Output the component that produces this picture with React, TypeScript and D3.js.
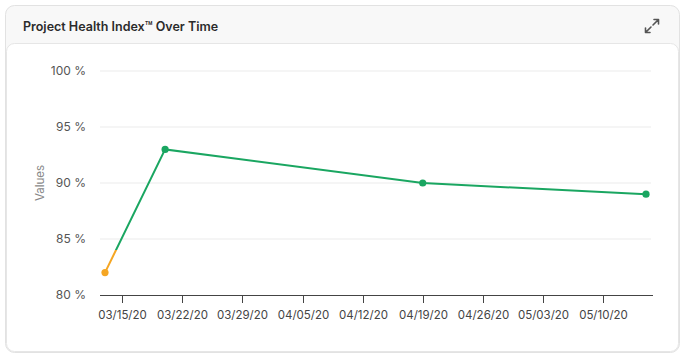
import React from "react";
import * as d3 from "d3";

const dates = ["2020-03-13", "2020-03-20", "2020-04-19", "2020-05-15"];
const values = [82, 93, 90, 89];
const yTicks = [80, 85, 90, 95, 100];
const xTickDates = ["2020-03-15", "2020-03-22", "2020-03-29", "2020-04-05", "2020-04-12", "2020-04-19", "2020-04-26", "2020-05-03", "2020-05-10"];
const threshold = 84;

const W = 688;
const H = 360;
const parse = d3.timeParse("%Y-%m-%d");
const fmt = d3.timeFormat("%m/%d/%y");
const FONT = "Inter, 'Noto Sans', sans-serif";

export default function App() {
  const pts = dates.map((d, i) => ({ date: parse(d) as Date, v: values[i] }));
  const x = d3.scaleTime().domain([pts[0].date, pts[pts.length - 1].date]).range([105, 646]);
  const y = d3.scaleLinear().domain([80, 100]).range([295, 71]);
  const line = d3.line<{ date: Date; v: number }>().x((d) => x(d.date)).y((d) => y(d.v));
  const green = "#1aa661";
  const orange = "#f5a623";
  const tY = y(threshold);
  return (
    <svg width={W} height={H} style={{ position: "absolute", left: 0, top: 0, fontFamily: FONT }}>
      <defs>
        <linearGradient id="lg" gradientUnits="userSpaceOnUse" x1={0} y1={y(80)} x2={0} y2={y(100)}>
          <stop offset={(y(80) - tY) / (y(80) - y(100))} stopColor={orange} />
          <stop offset={(y(80) - tY) / (y(80) - y(100))} stopColor={green} />
        </linearGradient>
      </defs>
      <rect x={5.5} y={5.5} width={674} height={347} rx={9} fill="#f8f8f8" stroke="#e2e2e2" />
      <rect x={6.5} y={43.5} width={672} height={308} rx={8} fill="#ffffff" stroke="#e6e6e6" />
      <text x={23} y={30.5} fontSize={12.5} fontWeight={600} fill="#2b2b2b">Project Health Index™ Over Time</text>
      <g stroke="#555" strokeWidth={1.6} fill="none" strokeLinecap="round" strokeLinejoin="round">
        <path d="M653 25 L658.5 19.5 M654 19.5 L658.5 19.5 L658.5 24" />
        <path d="M651 27 L645.5 32.5 M645.5 28 L645.5 32.5 L650 32.5" />
      </g>
      {yTicks.map((t) => (
        <g key={t}>
          {t !== 80 && <line x1={100} x2={651} y1={y(t)} y2={y(t)} stroke="#ebebeb" strokeWidth={1} />}
          <text x={86} y={y(t)} dy="0.35em" textAnchor="end" fontSize={12} fill="#555">{t} %</text>
        </g>
      ))}
      <text transform={`translate(44,${y(90)}) rotate(-90)`} textAnchor="middle" fontSize={11.5} fill="#888">Values</text>
      <line x1={100} x2={653} y1={295.5} y2={295.5} stroke="#444" strokeWidth={1} />
      {xTickDates.map((d) => {
        const dt = parse(d) as Date;
        const xx = Math.round(x(dt)) + 0.5;
        return (
          <g key={d}>
            <line x1={xx} x2={xx} y1={296} y2={303} stroke="#444" />
            <text x={xx} y={319} textAnchor="middle" fontSize={11.5} fill="#444">{fmt(dt)}</text>
          </g>
        );
      })}
      <path d={line(pts) || ""} fill="none" stroke="url(#lg)" strokeWidth={2} />
      {pts.map((p, i) => (
        <circle key={i} cx={x(p.date)} cy={y(p.v)} r={3.6} fill={p.v < threshold ? orange : green} />
      ))}
    </svg>
  );
}
